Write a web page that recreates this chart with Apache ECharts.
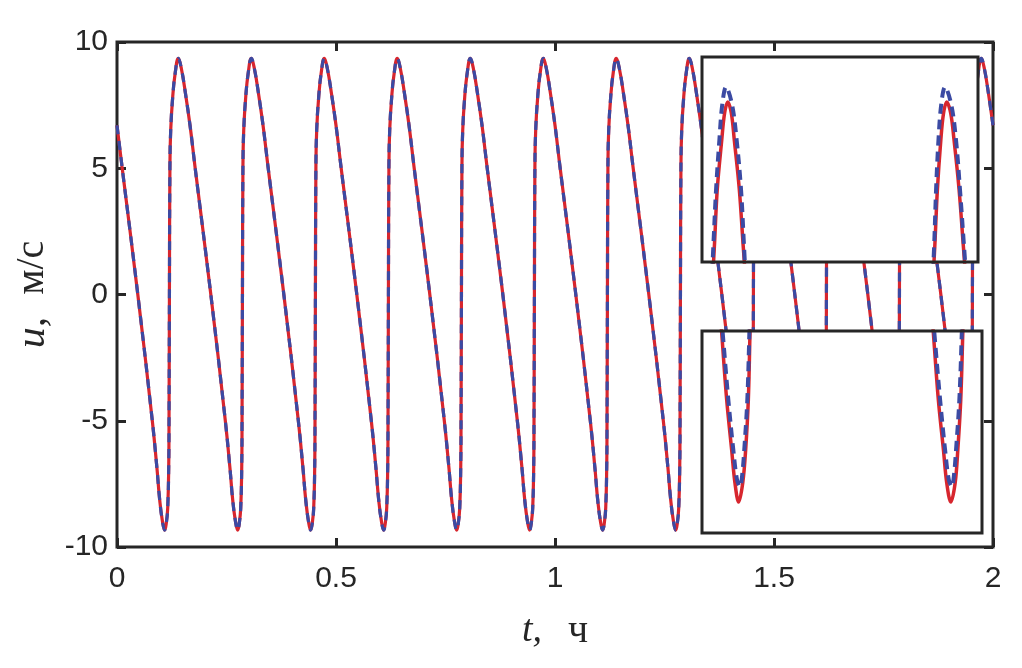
<!DOCTYPE html>
<html><head><meta charset="utf-8">
<script src="https://cdn.jsdelivr.net/npm/echarts@6/dist/echarts.min.js"></script>
<style>html,body{margin:0;padding:0;background:#fff}#c{width:1022px;height:668px}</style>
</head><body><div id="c"></div>
<script>
// tick labels
const xTickLabels = ['0', '0.5', '1', '1.5', '2'];
const yTickLabels = ['-10', '-5', '0', '5', '10'];

// main curve (t in hours, u in m/s)
const tMain = [
 0.0000,0.0115,0.0475,0.0806,0.0913,0.0975,0.1039,
 0.1089,0.1126,0.1158,0.1181,0.1188,0.1197,0.1208,0.1226,0.1272,0.1331,0.1400,0.1469,0.1560,0.1667,0.1781,0.2142,0.2473,0.2580,0.2642,0.2706,
 0.2756,0.2793,0.2825,0.2848,0.2855,0.2864,0.2875,0.2893,0.2939,0.2998,0.3067,0.3136,0.3227,0.3334,0.3448,0.3809,0.4140,0.4247,0.4309,0.4373,
 0.4422,0.4459,0.4491,0.4514,0.4521,0.4530,0.4541,0.4559,0.4605,0.4664,0.4733,0.4802,0.4893,0.5000,0.5114,0.5475,0.5806,0.5913,0.5975,0.6039,
 0.6089,0.6126,0.6158,0.6181,0.6188,0.6197,0.6208,0.6226,0.6272,0.6331,0.6400,0.6469,0.6560,0.6667,0.6781,0.7142,0.7473,0.7580,0.7642,0.7706,
 0.7756,0.7793,0.7825,0.7848,0.7855,0.7864,0.7875,0.7893,0.7939,0.7998,0.8067,0.8136,0.8227,0.8334,0.8448,0.8809,0.9140,0.9247,0.9309,0.9373,
 0.9422,0.9459,0.9491,0.9514,0.9521,0.9530,0.9541,0.9559,0.9605,0.9664,0.9733,0.9802,0.9893,1.0000,1.0114,1.0475,1.0806,1.0913,1.0975,1.1039,
 1.1089,1.1126,1.1158,1.1181,1.1188,1.1197,1.1208,1.1226,1.1272,1.1331,1.1400,1.1469,1.1560,1.1667,1.1781,1.2142,1.2473,1.2580,1.2642,1.2706,
 1.2756,1.2793,1.2825,1.2848,1.2855,1.2864,1.2875,1.2893,1.2939,1.2998,1.3067,1.3136,1.3227,1.3334,1.3448,1.3809,1.4140,1.4247,1.4309,1.4373,
 1.4422,1.4459,1.4491,1.4514,1.4521,1.4530,1.4541,1.4559,1.4605,1.4664,1.4733,1.4802,1.4893,1.5000,1.5114,1.5475,1.5806,1.5913,1.5975,1.6039,
 1.6089,1.6126,1.6158,1.6181,1.6188,1.6197,1.6208,1.6226,1.6272,1.6331,1.6400,1.6469,1.6560,1.6667,1.6781,1.7142,1.7473,1.7580,1.7642,1.7706,
 1.7756,1.7793,1.7825,1.7848,1.7855,1.7864,1.7875,1.7893,1.7939,1.7998,1.8067,1.8136,1.8227,1.8334,1.8448,1.8809,1.9140,1.9247,1.9309,1.9373,
 1.9422,1.9459,1.9491,1.9514,1.9521,1.9530,1.9541,1.9559,1.9605,1.9664,1.9733,1.9802,1.9893,2.0000
];
const uMain = [
 6.70,5.06,0.00,-5.00,-6.90,-8.14,-9.00,
 -9.33,-9.05,-8.45,-6.80,-5.00,0.00,5.00,6.50,7.83,8.80,9.35,8.95,8.00,6.70,5.06,0.00,-5.00,-6.90,-8.14,-9.00,
 -9.33,-9.05,-8.45,-6.80,-5.00,0.00,5.00,6.50,7.83,8.80,9.35,8.95,8.00,6.70,5.06,0.00,-5.00,-6.90,-8.14,-9.00,
 -9.33,-9.05,-8.45,-6.80,-5.00,0.00,5.00,6.50,7.83,8.80,9.35,8.95,8.00,6.70,5.06,0.00,-5.00,-6.90,-8.14,-9.00,
 -9.33,-9.05,-8.45,-6.80,-5.00,0.00,5.00,6.50,7.83,8.80,9.35,8.95,8.00,6.70,5.06,0.00,-5.00,-6.90,-8.14,-9.00,
 -9.33,-9.05,-8.45,-6.80,-5.00,0.00,5.00,6.50,7.83,8.80,9.35,8.95,8.00,6.70,5.06,0.00,-5.00,-6.90,-8.14,-9.00,
 -9.33,-9.05,-8.45,-6.80,-5.00,0.00,5.00,6.50,7.83,8.80,9.35,8.95,8.00,6.70,5.06,0.00,-5.00,-6.90,-8.14,-9.00,
 -9.33,-9.05,-8.45,-6.80,-5.00,0.00,5.00,6.50,7.83,8.80,9.35,8.95,8.00,6.70,5.06,0.00,-5.00,-6.90,-8.14,-9.00,
 -9.33,-9.05,-8.45,-6.80,-5.00,0.00,5.00,6.50,7.83,8.80,9.35,8.95,8.00,6.70,5.06,0.00,-5.00,-6.90,-8.14,-9.00,
 -9.33,-9.05,-8.45,-6.80,-5.00,0.00,5.00,6.50,7.83,8.80,9.35,8.95,8.00,6.70,5.06,0.00,-5.00,-6.90,-8.14,-9.00,
 -9.33,-9.05,-8.45,-6.80,-5.00,0.00,5.00,6.50,7.83,8.80,9.35,8.95,8.00,6.70,5.06,0.00,-5.00,-6.90,-8.14,-9.00,
 -9.33,-9.05,-8.45,-6.80,-5.00,0.00,5.00,6.50,7.83,8.80,9.35,8.95,8.00,6.70,5.06,0.00,-5.00,-6.90,-8.14,-9.00,
 -9.33,-9.05,-8.45,-6.80,-5.00,0.00,5.00,6.50,7.83,8.80,9.35,8.95,8.00,6.70
];

// upper inset (peaks); null = gap between the two peaks
const tTopRed  = [1.6276,1.6294,1.6316,1.6350,1.6372,1.6396,1.6423,1.6446,1.6484,1.6514,1.6537,1.72,1.7954,1.7971,1.7991,1.8017,1.8038,1.8062,1.8092,1.8118,1.8156,1.8189,1.8213];
const uTopRed  = [8.00,8.31,8.73,9.09,9.29,9.37,9.29,9.09,8.73,8.31,8.00,null,8.00,8.31,8.73,9.09,9.29,9.37,9.29,9.09,8.73,8.31,8.00];
const tTopBlue = [1.6271,1.6286,1.6307,1.6332,1.6354,1.6383,1.6429,1.6464,1.6497,1.6520,1.6537,1.72,1.7951,1.7966,1.7981,1.7999,1.8020,1.8049,1.8097,1.8133,1.8163,1.8194,1.8217];
const uTopBlue = [8.00,8.31,8.73,9.09,9.35,9.48,9.35,9.09,8.73,8.31,8.00,null,8.00,8.31,8.73,9.09,9.35,9.48,9.35,9.09,8.73,8.31,8.00];

// lower inset (troughs)
const tBotRed  = [1.5935,1.5955,1.5994,1.6033,1.6059,1.6088,1.6120,1.6143,1.6164,1.6177,1.6184,1.69,1.7598,1.7618,1.7657,1.7697,1.7723,1.7755,1.7789,1.7810,1.7833,1.7849,1.7856];
const uBotRed  = [-7.64,-7.92,-8.48,-8.90,-9.18,-9.34,-9.18,-8.90,-8.48,-7.92,-7.64,null,-7.64,-7.92,-8.48,-8.90,-9.18,-9.34,-9.18,-8.90,-8.48,-7.92,-7.64];
const tBotBlue = [1.5941,1.5963,1.6007,1.6046,1.6075,1.6099,1.6117,1.6132,1.6156,1.6172,1.6178,1.69,1.7606,1.7626,1.7671,1.7710,1.7739,1.7763,1.7781,1.7796,1.7822,1.7841,1.7848];
const uBotBlue = [-7.64,-7.92,-8.48,-8.90,-9.15,-9.21,-9.10,-8.90,-8.48,-7.92,-7.64,null,-7.64,-7.92,-8.48,-8.90,-9.15,-9.21,-9.10,-8.90,-8.48,-7.92,-7.64];

const RED = '#d7262e', BLUE = '#3b4aa3', INK = '#262626';
const zip = (t, u) => t.map((x, i) => u[i] === null ? [x, '-'] : [x, u[i]]);

const chart = echarts.init(document.getElementById('c'), null, {renderer: 'canvas'});
const tickStyle = {show: true, inside: true, length: 9, lineStyle: {color: INK, width: 3}};
const labelFont = {color: INK, fontFamily: 'Liberation Sans, Arial, sans-serif', fontSize: 30};
const serif = 'Liberation Serif, Times New Roman, serif';
const G = [
  {left: 117, top: 42, width: 876, height: 505},
  {left: 702, top: 57, width: 276, height: 205},
  {left: 702, top: 331, width: 280, height: 202}
];
const hiddenAxis = (gi, min, max) => ({type: 'value', gridIndex: gi, show: false, min, max});
const noLine = {show: false, onZero: false};

chart.setOption({
  animation: false,
  backgroundColor: '#fff',
  grid: [
    Object.assign({show: true, borderColor: INK, borderWidth: 3, backgroundColor: 'transparent', containLabel: false, outerBoundsMode: 'none'}, G[0]),
    Object.assign({show: false, containLabel: false, outerBoundsMode: 'none'}, G[1]),
    Object.assign({show: false, containLabel: false, outerBoundsMode: 'none'}, G[2])
  ],
  xAxis: [
    {type: 'value', gridIndex: 0, position: 'bottom', min: 0, max: 2, interval: 0.5,
     axisLine: noLine, axisTick: tickStyle, splitLine: {show: false},
     axisLabel: Object.assign({margin: 17, formatter: v => xTickLabels[Math.round(v / 0.5)]}, labelFont),
     name: '{i|t,}{g|}{n|ч}', nameLocation: 'middle', nameGap: 64,
     nameTextStyle: {rich: {
       i: {fontFamily: serif, fontStyle: 'italic', fontSize: 38, color: INK},
       g: {width: 26},
       n: {fontFamily: serif, fontSize: 40, color: INK}}}},
    {type: 'value', gridIndex: 0, position: 'top', min: 0, max: 2, interval: 0.5,
     axisLine: noLine, axisTick: tickStyle, axisLabel: {show: false}, splitLine: {show: false}},
    hiddenAxis(1, 1.62, 1.83),
    hiddenAxis(2, 1.58, 1.80)
  ],
  yAxis: [
    {type: 'value', gridIndex: 0, position: 'left', min: -10, max: 10, interval: 5,
     axisLine: noLine, axisTick: tickStyle, splitLine: {show: false},
     axisLabel: Object.assign({margin: 9, formatter: v => yTickLabels[Math.round((v + 10) / 5)]}, labelFont),
     name: '{i|u,}{g|}{n|м/с}', nameLocation: 'middle', nameGap: 58,
     nameTextStyle: {rich: {
       i: {fontFamily: serif, fontStyle: 'italic', fontSize: 42, color: INK},
       g: {width: 22},
       n: {fontFamily: serif, fontSize: 40, color: INK}}}},
    {type: 'value', gridIndex: 0, position: 'right', min: -10, max: 10, interval: 5,
     axisLine: noLine, axisTick: tickStyle, axisLabel: {show: false}, splitLine: {show: false}},
    hiddenAxis(1, 8.2, 9.7),
    hiddenAxis(2, -9.6, -7.9)
  ],
  graphic: [
    {type: 'rect', z: 50, shape: {x: G[1].left, y: G[1].top, width: G[1].width, height: G[1].height}, style: {fill: '#fff', stroke: null}},
    {type: 'rect', z: 50, shape: {x: G[2].left, y: G[2].top, width: G[2].width, height: G[2].height}, style: {fill: '#fff', stroke: null}},
    {type: 'rect', z: 150, shape: {x: G[1].left, y: G[1].top, width: G[1].width, height: G[1].height}, style: {fill: 'none', stroke: INK, lineWidth: 3}},
    {type: 'rect', z: 150, shape: {x: G[2].left, y: G[2].top, width: G[2].width, height: G[2].height}, style: {fill: 'none', stroke: INK, lineWidth: 3}}
  ],
  series: [
    {type: 'line', xAxisIndex: 0, yAxisIndex: 0, z: 2, data: zip(tMain, uMain), smooth: 0.45, symbol: 'none',
     lineStyle: {color: RED, width: 3.2}},
    {type: 'line', xAxisIndex: 0, yAxisIndex: 0, z: 3, data: zip(tMain, uMain), smooth: 0.45, symbol: 'none',
     lineStyle: {color: BLUE, width: 3.2, type: [9, 7]}},
    {type: 'line', xAxisIndex: 2, yAxisIndex: 2, z: 100, data: zip(tTopRed, uTopRed), smooth: 0.35, symbol: 'none',
     lineStyle: {color: RED, width: 3.5}},
    {type: 'line', xAxisIndex: 2, yAxisIndex: 2, z: 101, data: zip(tTopBlue, uTopBlue), smooth: 0.35, symbol: 'none',
     lineStyle: {color: BLUE, width: 4, type: [10, 6]}},
    {type: 'line', xAxisIndex: 3, yAxisIndex: 3, z: 100, data: zip(tBotRed, uBotRed), smooth: 0.35, symbol: 'none',
     lineStyle: {color: RED, width: 3.5}},
    {type: 'line', xAxisIndex: 3, yAxisIndex: 3, z: 101, data: zip(tBotBlue, uBotBlue), smooth: 0.35, symbol: 'none',
     lineStyle: {color: BLUE, width: 4, type: [10, 6]}}
  ]
});
</script></body></html>
